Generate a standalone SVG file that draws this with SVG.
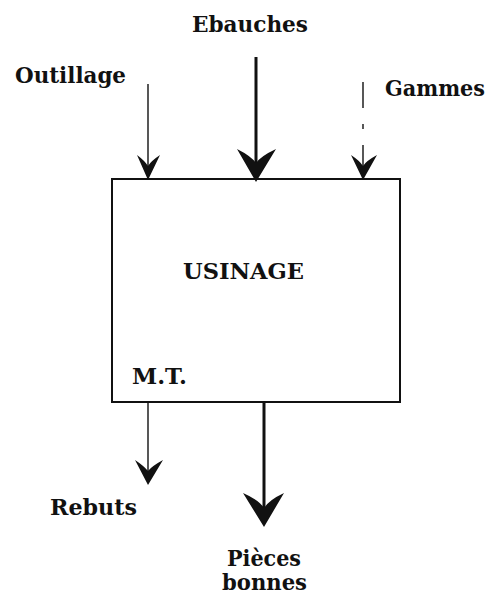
<svg xmlns="http://www.w3.org/2000/svg" width="490" height="601" viewBox="0 0 490 601">
<style>
  .lbl { font-family: "DejaVu Serif", "Liberation Serif", serif; font-weight: bold; font-size: 22px; fill: #111; }
  .box { fill: #fff; stroke: #111; stroke-width: 2; }
  .thin { stroke: #111; stroke-width: 1.4; fill: none; }
  .thick { stroke: #111; stroke-width: 3; fill: none; }
  .head { fill: #111; stroke: none; }
</style>
<rect width="490" height="601" fill="#fff"/>

<g id="usinage">
  <rect class="box" x="112" y="179" width="288" height="223"/>
  <text class="lbl" x="183" y="279" textLength="121" lengthAdjust="spacingAndGlyphs" font-size="23">USINAGE</text>
  <text class="lbl" x="132" y="384" textLength="55" lengthAdjust="spacingAndGlyphs" font-size="23">M.T.</text>
</g>

<g id="ebauches">
  <text class="lbl" x="192" y="32" textLength="116" lengthAdjust="spacingAndGlyphs">Ebauches</text>
</g>
<g id="outillage">
  <text class="lbl" x="15" y="83" textLength="111" lengthAdjust="spacingAndGlyphs">Outillage</text>
</g>
<g id="gammes">
  <text class="lbl" x="385" y="96" textLength="100" lengthAdjust="spacingAndGlyphs">Gammes</text>
</g>
<g id="rebuts">
  <text class="lbl" x="50" y="515" textLength="87" lengthAdjust="spacingAndGlyphs">Rebuts</text>
</g>
<g id="pieces-bonnes">
  <text class="lbl" x="227" y="566" textLength="74" lengthAdjust="spacingAndGlyphs" font-size="21">Pièces</text>
  <text class="lbl" x="222" y="590" textLength="85" lengthAdjust="spacingAndGlyphs" font-size="21">bonnes</text>
</g>

<g id="connectors">
  <!-- Outillage -> Usinage -->
  <line class="thin" x1="148" y1="84" x2="148" y2="170"/>
  <path class="head" d="M148,180 L137,155 Q145,161 148,166 Q151,161 160,155 Z"/>
  <!-- Ebauches -> Usinage -->
  <line class="thick" x1="256" y1="57" x2="256" y2="168"/>
  <path class="head" d="M256,182 L237,149 Q251,156 256,163 Q261,156 276,149 Z"/>
  <!-- Gammes -> Usinage (dashed) -->
  <line class="thin" x1="363" y1="82" x2="363" y2="108"/>
  <line class="thin" x1="363" y1="124" x2="363" y2="129"/>
  <line class="thin" x1="363" y1="145" x2="363" y2="170"/>
  <path class="head" d="M363,180 L351,155 Q360,161 363,166 Q366,161 377,155 Z"/>
  <!-- Usinage -> Rebuts -->
  <line class="thin" x1="148" y1="402" x2="148" y2="475"/>
  <path class="head" d="M148,485 L135,460 Q144,466 148,471 Q152,466 163,460 Z"/>
  <!-- Usinage -> Pièces bonnes -->
  <line class="thick" x1="264" y1="402" x2="264" y2="514"/>
  <path class="head" d="M264,527 L243,493 Q259,500 264,508 Q269,500 284,493 Z"/>
</g>
</svg>
